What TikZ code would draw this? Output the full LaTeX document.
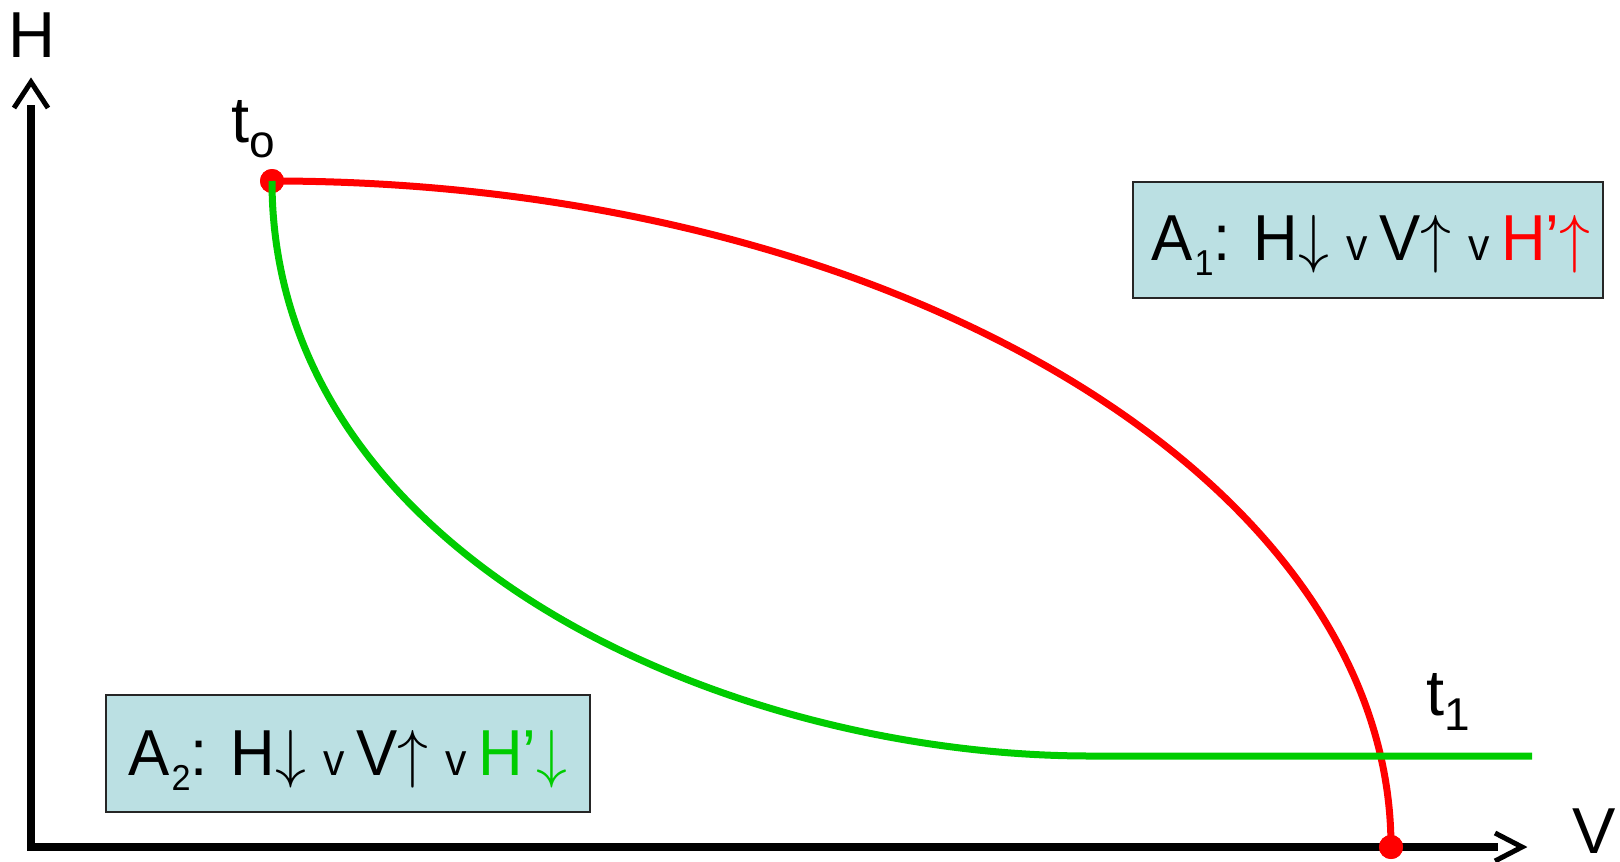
\documentclass[tikz,border=0pt]{standalone}
\usepackage{fontspec}
\setmainfont{Liberation Sans}
\definecolor{boxfill}{HTML}{BBE0E3}
\definecolor{grn}{HTML}{00CC00}
\newcommand\bsub[1]{\hspace{2pt}\raisebox{-15pt}{\fontsize{36}{36}\selectfont #1}}
\newcommand\tsub[1]{\raisebox{-15pt}{\fontsize{46}{46}\selectfont #1}}
\newcommand\sv{{\fontsize{45}{45}\selectfont v\hspace{12pt}}}
\newcommand\aup{{\fontsize{10}{10}\selectfont\scalebox{6.5}{$\uparrow$}}}
\newcommand\adn{{\fontsize{10}{10}\selectfont\scalebox{6.5}{$\downarrow$}}}
\newcommand\narrow[1]{\scalebox{0.95}[1]{#1}}
\tikzset{
  axisline/.style={line width=8pt, line join=miter},
  chev/.style={line width=5pt, line join=miter},
  curvered/.style={red, line width=7pt},
  curvegreen/.style={grn, line width=7pt},
  reddot/.style={circle, fill=red, minimum size=24pt, inner sep=0pt},
  lbl/.style={inner sep=0pt, anchor=base west, font=\fontsize{65}{70}\selectfont},
  infobox/.style={draw=black!85, line width=1.5pt, fill=boxfill, inner sep=0pt, font=\fontsize{65}{70}\selectfont}
}
\begin{document}
\begin{tikzpicture}[x=1pt, y=-1pt]
\useasboundingbox (0,0) rectangle (1620,862);
% axes
\coordinate (O) at (31,847);
\coordinate (Ytop) at (31,105);
\coordinate (Xend) at (1498,847);
\draw[axisline] (Ytop) -- (O) -- (Xend);
\draw[chev] (14,108) -- (31,82) -- (48,108);
\draw[chev] (1495,833) -- (1522,847) -- (1495,861);
\node[lbl] (Hlab) at (8,57) {H};
\node[lbl] (Vlab) at (1572,853) {V};
% red curve and dots
\node[reddot] (t0) at (272,181) {};
\node[reddot] (t1) at (1391,847) {};
\draw[curvered] (t0.center) .. controls (890,181) and (1391,479) .. (t1.center);
\node[reddot] at (t0.center) {};
\node[reddot] at (t1.center) {};
% green curve
\coordinate (gEnd) at (1090,756);
\coordinate (gRight) at (1532,756);
\draw[curvegreen] (t0.center) .. controls (272,554) and (722,756) .. (gEnd) -- (gRight);
% labels
\node[lbl] (t0lab) at (231,142) {t\tsub{o}};
\node[lbl] (t1lab) at (1426,715) {t\tsub{1}};
% boxes
\node[infobox, minimum width=470pt, text height=78pt, text depth=38pt] (A1) at (1368,240)
  {\hspace{6pt}\narrow{A\bsub{1}: H\adn{} \sv{}V\aup{} \sv{}\textcolor{red}{H’\aup}}};
\node[infobox, minimum width=484pt, text height=80pt, text depth=37pt] (A2) at (348,753.5)
  {\narrow{A\bsub{2}: H\adn{} \sv{}V\aup{} \sv{}\textcolor{grn}{H’\adn}}\hspace{10pt}};
\end{tikzpicture}
\end{document}
